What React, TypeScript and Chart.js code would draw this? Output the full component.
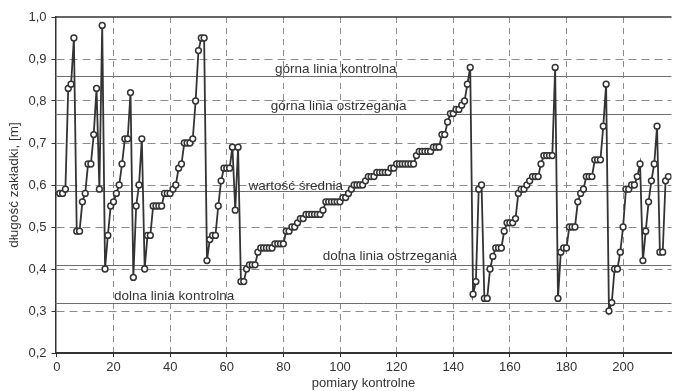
import React, { useEffect, useRef } from "react";
import { Chart, registerables } from "chart.js";

Chart.register(...registerables);

// Measured overlap length [m] for each control measurement (1..216)
const overlapLength: number[] = [
  0.58, 0.58, 0.59, 0.83, 0.84, 0.95, 0.49, 0.49, 0.56, 0.58,
  0.65, 0.65, 0.72, 0.83, 0.59, 0.98, 0.40, 0.48, 0.55, 0.56,
  0.58, 0.60, 0.65, 0.71, 0.71, 0.82, 0.38, 0.55, 0.60, 0.71,
  0.40, 0.48, 0.48, 0.55, 0.55, 0.55, 0.55, 0.58, 0.58, 0.58,
  0.59, 0.60, 0.64, 0.65, 0.70, 0.70, 0.70, 0.71, 0.80, 0.92,
  0.95, 0.95, 0.42, 0.47, 0.48, 0.48, 0.55, 0.61, 0.64, 0.64,
  0.64, 0.69, 0.54, 0.69, 0.37, 0.37, 0.40, 0.41, 0.41, 0.41,
  0.44, 0.45, 0.45, 0.45, 0.45, 0.45, 0.46, 0.46, 0.46, 0.46,
  0.49, 0.49, 0.50, 0.50, 0.51, 0.52, 0.52, 0.53, 0.53, 0.53,
  0.53, 0.53, 0.53, 0.54, 0.56, 0.56, 0.56, 0.56, 0.56, 0.56,
  0.57, 0.57, 0.58, 0.59, 0.60, 0.60, 0.60, 0.60, 0.61, 0.62,
  0.62, 0.62, 0.63, 0.63, 0.63, 0.63, 0.63, 0.64, 0.64, 0.65,
  0.65, 0.65, 0.65, 0.65, 0.65, 0.65, 0.67, 0.68, 0.68, 0.68,
  0.68, 0.68, 0.69, 0.69, 0.69, 0.72, 0.72, 0.75, 0.77, 0.77,
  0.78, 0.78, 0.79, 0.80, 0.84, 0.88, 0.34, 0.37, 0.59, 0.60,
  0.33, 0.33, 0.40, 0.43, 0.45, 0.45, 0.45, 0.49, 0.51, 0.51,
  0.51, 0.52, 0.58, 0.59, 0.59, 0.60, 0.61, 0.62, 0.62, 0.62,
  0.65, 0.67, 0.67, 0.67, 0.67, 0.88, 0.33, 0.44, 0.45, 0.45,
  0.50, 0.50, 0.50, 0.56, 0.58, 0.59, 0.62, 0.62, 0.62, 0.66,
  0.66, 0.66, 0.74, 0.84, 0.30, 0.32, 0.40, 0.40, 0.44, 0.50,
  0.59, 0.59, 0.60, 0.60, 0.62, 0.65, 0.42, 0.49, 0.56, 0.61,
  0.65, 0.74, 0.44, 0.44, 0.61, 0.62,
];

const measurementNo: number[] = overlapLength.map((_, i) => i + 1);

const xTickValues: number[] = [0, 20, 40, 60, 80, 100, 120, 140, 160, 180, 200];
const yTickValues: number[] = [0.2, 0.3, 0.4, 0.5, 0.6, 0.7, 0.8, 0.9, 1.0];

// Control chart limits
const limitValues: number[] = [0.86, 0.77, 0.585, 0.41, 0.32];
const limitNames: string[] = [
  "górna linia kontrolna",
  "górna linia ostrzegania",
  "wartość średnia",
  "dolna linia ostrzegania",
  "dolna linia kontrolna",
];

const FONT = "'Liberation Sans', Arial, Helvetica, sans-serif";
const INK = "#333333";

// where each limit caption sits (measurement number of its centre, gap above the line in px)
const captionPlacement = [
  { at: 98.5, lift: 4 },
  { at: 99.5, lift: 5 },
  { at: 84.4, lift: 2 },
  { at: 117.6, lift: 6 },
  { at: 41.4, lift: 4 },
];

const limitLinesPlugin = {
  id: "limitLines",
  beforeDatasetsDraw(chart: any) {
    const { ctx, chartArea, scales } = chart;
    const x = scales.x;
    const y = scales.y;
    ctx.save();
    // solid frame line along the top of the plot
    ctx.strokeStyle = INK;
    ctx.lineWidth = 1.5;
    ctx.beginPath();
    ctx.moveTo(chartArea.left, chartArea.top);
    ctx.lineTo(chartArea.right, chartArea.top);
    ctx.stroke();

    limitValues.forEach((v, i) => {
      const py = Math.round(y.getPixelForValue(v)) + 0.5;
      ctx.strokeStyle = "#6e6e6e";
      ctx.lineWidth = 1;
      ctx.setLineDash([]);
      ctx.beginPath();
      ctx.moveTo(chartArea.left, py);
      ctx.lineTo(chartArea.right, py);
      ctx.stroke();

      const place = captionPlacement[i];
      ctx.fillStyle = INK;
      ctx.font = `13.5px ${FONT}`;
      ctx.textAlign = "center";
      ctx.textBaseline = "alphabetic";
      ctx.fillText(limitNames[i], x.getPixelForValue(place.at), py - place.lift);
    });
    ctx.restore();
  },
};

export default function App() {
  const canvasRef = useRef<HTMLCanvasElement | null>(null);

  useEffect(() => {
    const canvas = canvasRef.current;
    if (!canvas) return;

    const chart = new Chart(canvas, {
      type: "line",
      data: {
        datasets: [
          {
            data: overlapLength.map((v, i) => ({ x: measurementNo[i], y: v })),
            borderColor: INK,
            borderWidth: 1.8,
            pointRadius: 2.9,
            pointBorderWidth: 1.5,
            pointBackgroundColor: "#ffffff",
            pointBorderColor: INK,
            tension: 0,
            fill: false,
          },
        ],
      },
      options: {
        animation: false,
        responsive: false,
        maintainAspectRatio: false,
        layout: { padding: { left: 0, right: 0, top: 17, bottom: 0 } },
        plugins: {
          legend: { display: false },
          tooltip: { enabled: false },
        },
        scales: {
          x: {
            type: "linear",
            min: -0.5,
            max: 217.1,
            afterBuildTicks: (scale: any) => {
              scale.ticks = xTickValues.map((v) => ({ value: v }));
            },
            afterFit: (scale: any) => {
              scale.height = 38;
            },
            ticks: {
              autoSkip: false,
              maxRotation: 0,
              padding: 3,
              color: INK,
              font: { family: FONT, size: 13 },
              callback: (v: any) => String(v),
            },
            grid: {
              color: (c: any) => (c.tick && c.tick.value === 0 ? "rgba(0,0,0,0)" : "#8c8c8c"),
              lineWidth: 1,
              tickLength: 4,
              tickColor: INK,
              tickBorderDash: [],
            },
            border: { display: true, color: INK, width: 2, dash: [6, 5] },
            title: {
              display: true,
              text: "pomiary kontrolne",
              color: INK,
              font: { family: FONT, size: 13 },
              padding: { top: 0, bottom: 0 },
            },
          },
          y: {
            type: "linear",
            min: 0.2,
            max: 1.0,
            afterBuildTicks: (scale: any) => {
              scale.ticks = yTickValues.map((v) => ({ value: v }));
            },
            afterFit: (scale: any) => {
              scale.width = 55.5;
            },
            ticks: {
              padding: 5,
              color: INK,
              font: { family: FONT, size: 13 },
              callback: (v: any) => Number(v).toFixed(1).replace(".", ","),
            },
            grid: {
              color: (c: any) =>
                c.tick && (Math.abs(c.tick.value - 0.2) < 1e-6 || Math.abs(c.tick.value - 1.0) < 1e-6)
                  ? "rgba(0,0,0,0)"
                  : "#8c8c8c",
              lineWidth: 1,
              tickLength: 4,
              tickColor: INK,
              tickBorderDash: [],
            },
            border: { display: true, color: INK, width: 1.5, dash: [8, 5] },
            title: {
              display: true,
              text: "długość zakładki, [m]",
              color: INK,
              font: { family: FONT, size: 13.5 },
              padding: { top: 6, bottom: 0 },
            },
          },
        },
      },
      plugins: [limitLinesPlugin],
    });

    return () => chart.destroy();
  }, []);

  return (
    <div
      style={{
        position: "fixed",
        left: 0,
        top: 0,
        width: 677,
        height: 391,
        background: "#ffffff",
      }}
    >
      <canvas ref={canvasRef} width={677} height={391} style={{ width: 677, height: 391, display: "block" }} />
    </div>
  );
}
